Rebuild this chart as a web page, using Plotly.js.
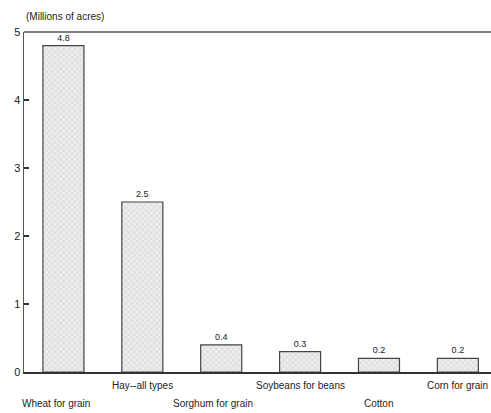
<!DOCTYPE html>
<html>
<head>
<meta charset="utf-8">
<script src="https://cdn.plot.ly/plotly-3.0.1.min.js"></script>
<style>html,body{margin:0;padding:0;background:#fff;}#chart{width:491px;height:413px;}</style>
</head>
<body>
<div id="chart"></div>
<script>
const categories = ["Wheat for grain", "Hay--all types", "Sorghum for grain", "Soybeans for beans", "Cotton", "Corn for grain"];
const values = [4.8, 2.5, 0.4, 0.3, 0.2, 0.2];
const valueLabels = ["4.8", "2.5", "0.4", "0.3", "0.2", "0.2"];
const yTicks = [0, 1, 2, 3, 4, 5];

const xIdx = categories.map((c, i) => i);
const trace = {
  type: "bar",
  x: xIdx,
  y: values,
  text: valueLabels,
  textposition: "outside",
  cliponaxis: false,
  textfont: {family: "Liberation Sans, Arial, sans-serif", size: 9, color: "#222"},
  width: 0.52,
  marker: {
    color: "#ececec",
    line: {color: "#444", width: 1.2},
    pattern: {shape: "x", fgcolor: "#b8b8b8", bgcolor: "#ececec", size: 4, solidity: 0.15}
  },
  hoverinfo: "none"
};

const shifts = [-7, 0, -8, 0, 0, 0];
const annotations = categories.map((c, i) => ({
  x: i, xref: "x",
  y: 0, yref: "paper",
  yanchor: "middle",
  yshift: (i % 2 === 0) ? -31 : -13,
  xshift: shifts[i],
  text: c, showarrow: false,
  font: {family: "Liberation Sans, Arial, sans-serif", size: 10, color: "#222"}
}));
annotations.push({
  x: 0, xref: "paper", xanchor: "left", xshift: 0,
  y: 1, yref: "paper", yanchor: "middle", yshift: 16,
  text: "(Millions of acres)", showarrow: false,
  font: {family: "Liberation Sans, Arial, sans-serif", size: 10, color: "#222"}
});

const layout = {
  width: 491, height: 413,
  margin: {l: 24, r: 0, t: 32, b: 41},
  paper_bgcolor: "#fff", plot_bgcolor: "#fff",
  showlegend: false,
  bargap: 0.48,
  xaxis: {
    range: [-0.5, 5.42],
    showticklabels: false, ticks: "",
    showgrid: false, zeroline: false,
    showline: true, linecolor: "#333", linewidth: 1.5
  },
  yaxis: {
    range: [0, 5],
    tickvals: yTicks,
    ticktext: yTicks.map(String),
    ticks: "inside", ticklen: 5, tickcolor: "#333", tickwidth: 1.5,
    showgrid: false, zeroline: false,
    showline: true, linecolor: "#555", linewidth: 1.5,
    tickfont: {family: "Liberation Sans, Arial, sans-serif", size: 11, color: "#222"}
  },
  shapes: [{
    type: "line", xref: "paper", yref: "paper",
    x0: 0, x1: 1, y0: 1, y1: 1,
    line: {color: "#555", width: 1.5}
  }],
  annotations: annotations
};

Plotly.newPlot("chart", [trace], layout, {displayModeBar: false, staticPlot: true});
</script>
</body>
</html>
